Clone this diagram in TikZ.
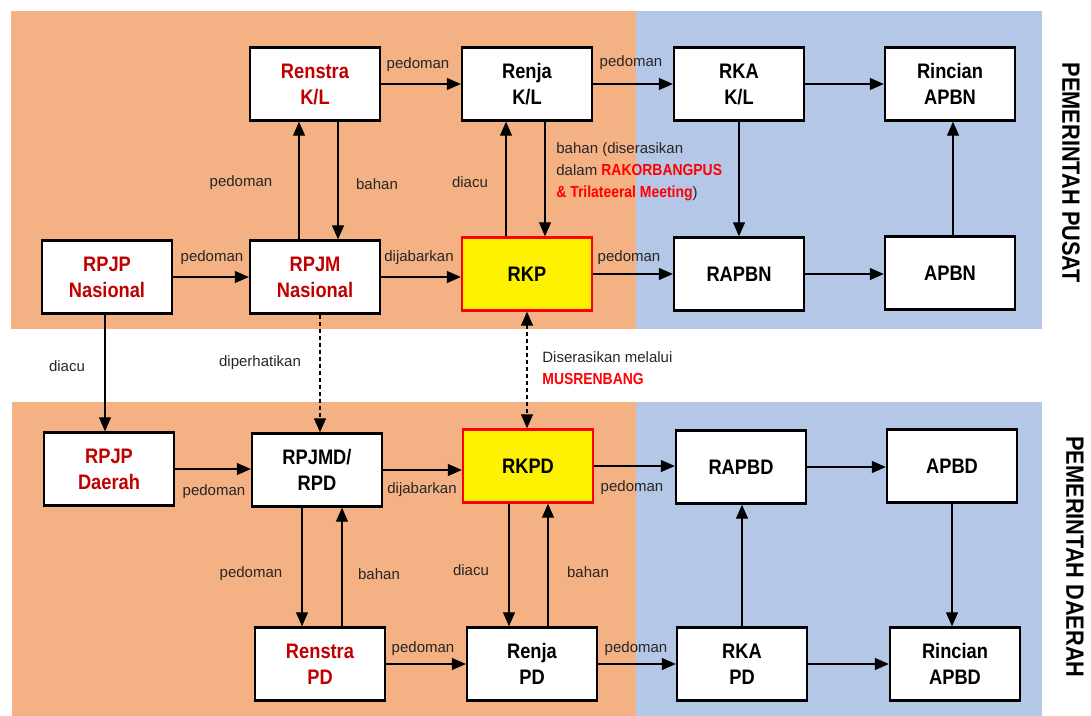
\documentclass[tikz,border=0pt]{standalone}
\usepackage{fontspec}
\setmainfont{Liberation Sans}
\newfontfamily\boxfont{Liberation Sans}[FakeStretch=0.87]
\usetikzlibrary{arrows.meta}

\definecolor{pusatorange}{HTML}{F4B183}
\definecolor{anggaranblue}{HTML}{B4C7E7}
\definecolor{docred}{HTML}{C00000}
\definecolor{hotred}{HTML}{FF0000}

\tikzset{
  doc/.style={draw, line width=1.2pt, fill=white, minimum width=65pt,
    minimum height=36.5pt, align=center, inner sep=0pt,
    font=\boxfont\bfseries\fontsize{10.5}{13}\selectfont},
  docname/.style={doc, text=docred},
  keydoc/.style={doc, fill=yellow, draw=hotred},
  lbl/.style={font=\fontsize{7.5}{11}\selectfont, text=black!85, inner sep=1pt},
  arr/.style={-{Triangle[length=7pt,width=6pt]}, line width=0.6pt},
  dasharr/.style={arr, dash pattern=on 2pt off 1.5pt},
  side/.style={font=\boxfont\bfseries\fontsize{12.5}{14}\selectfont, rotate=-90},
}
\newcommand{\hot}[1]{\textcolor{hotred}{\boxfont\bfseries\fontsize{8}{11}\selectfont #1}}

\begin{document}
\begin{tikzpicture}[x=0.5pt,y=-0.5pt]
  \useasboundingbox (0,0) rectangle (1091,716);

  % Background panels
  \fill[pusatorange] (11,11) rectangle (636,329);
  \fill[anggaranblue] (636,11) rectangle (1042,329);
  \fill[pusatorange] (12,402) rectangle (636,716);
  \fill[anggaranblue] (636,402) rectangle (1042,716);

  % Pemerintah pusat
  \node[docname] (renstrakl) at (315,84) {Renstra\\K/L};
  \node[doc] (renjakl) at (527,84) {Renja\\K/L};
  \node[doc] (rkakl) at (739,84) {RKA\\K/L};
  \node[doc] (rincianapbn) at (950,84) {Rincian\\APBN};
  \node[docname] (rpjpn) at (107,277) {RPJP\\Nasional};
  \node[docname] (rpjmn) at (315,277) {RPJM\\Nasional};
  \node[keydoc] (rkp) at (527,274) {RKP};
  \node[doc] (rapbn) at (739,274) {RAPBN};
  \node[doc] (apbn) at (950,273) {APBN};

  % Pemerintah daerah
  \node[docname] (rpjpd) at (109,469) {RPJP\\Daerah};
  \node[doc] (rpjmd) at (317,470) {RPJMD/\\RPD};
  \node[keydoc] (rkpd) at (528,466) {RKPD};
  \node[doc] (rapbd) at (741,467) {RAPBD};
  \node[doc] (apbd) at (952,466) {APBD};
  \node[docname] (renstrapd) at (320,664) {Renstra\\PD};
  \node[doc] (renjapd) at (532,664) {Renja\\PD};
  \node[doc] (rkapd) at (742,664) {RKA\\PD};
  \node[doc] (rincianapbd) at (955,664) {Rincian\\APBD};

  % Side titles
  \node[side] (tpusat) at (1071,173) {PEMERINTAH PUSAT};
  \node[side] (tdaerah) at (1075,557) {PEMERINTAH DAERAH};

  % Arrows, pusat
  \draw[arr] (renstrakl.east) -- (renstrakl.east -| renjakl.west);
  \draw[arr] (renjakl.east) -- (renjakl.east -| rkakl.west);
  \draw[arr] (rkakl.east) -- (rkakl.east -| rincianapbn.west);
  \draw[arr] (rpjpn.east) -- (rpjpn.east -| rpjmn.west);
  \draw[arr] (rpjmn.east) -- (rpjmn.east -| rkp.west);
  \draw[arr] (rkp.east) -- (rkp.east -| rapbn.west);
  \draw[arr] (rapbn.east) -- (rapbn.east -| apbn.west);
  \draw[arr] ([xshift=-8pt]rpjmn.north) -- ([xshift=-8pt]renstrakl.south);
  \draw[arr] ([xshift=11.5pt]renstrakl.south) -- ([xshift=11.5pt]rpjmn.north);
  \draw[arr] ([xshift=-10.5pt]rkp.north) -- ([xshift=-10.5pt]renjakl.south);
  \draw[arr] ([xshift=9pt]renjakl.south) -- ([xshift=9pt]rkp.north);
  \draw[arr] (rkakl.south) -- (rapbn.north);
  \draw[arr] ([xshift=1.5pt]apbn.north) -- ([xshift=1.5pt]apbn.north |- rincianapbn.south);

  % Arrows, pusat to daerah
  \draw[arr] ([xshift=-1pt]rpjpn.south) -- ([xshift=-1pt]rpjpn.south |- rpjpd.north);
  \draw[dasharr] ([xshift=2.5pt]rpjmn.south) -- ([xshift=2.5pt]rpjmn.south |- rpjmd.north);
  \draw[dasharr, {Triangle[length=7pt,width=6pt]}-{Triangle[length=7pt,width=6pt]}]
    (rkp.south) -- (rkp.south |- rkpd.north);

  % Arrows, daerah
  \draw[arr] (rpjpd.east) -- (rpjpd.east -| rpjmd.west);
  \draw[arr] (rpjmd.east) -- (rpjmd.east -| rkpd.west);
  \draw[arr] (rkpd.east) -- (rkpd.east -| rapbd.west);
  \draw[arr] (rapbd.east) -- (rapbd.east -| apbd.west);
  \draw[arr] (renstrapd.east) -- (renstrapd.east -| renjapd.west);
  \draw[arr] (renjapd.east) -- (renjapd.east -| rkapd.west);
  \draw[arr] (rkapd.east) -- (rkapd.east -| rincianapbd.west);
  \draw[arr] ([xshift=-7.5pt]rpjmd.south) -- ([xshift=-7.5pt]rpjmd.south |- renstrapd.north);
  \draw[arr] ([xshift=12.5pt]rpjmd.south |- renstrapd.north) -- ([xshift=12.5pt]rpjmd.south);
  \draw[arr] ([xshift=-9.5pt]rkpd.south) -- ([xshift=-9.5pt]rkpd.south |- renjapd.north);
  \draw[arr] ([xshift=10pt]rkpd.south |- renjapd.north) -- ([xshift=10pt]rkpd.south);
  \draw[arr] (rkapd.north) -- (rkapd.north |- rapbd.south);
  \draw[arr] (apbd.south) -- (apbd.south |- rincianapbd.north);

  % Labels
  \node[lbl] (lpd1) at (418,65) {pedoman};
  \node[lbl] (lpd2) at (631,63) {pedoman};
  \node[lbl] (lpd3) at (241,183) {pedoman};
  \node[lbl] (lbh1) at (377,184) {bahan};
  \node[lbl] (ldc1) at (470,182) {diacu};
  \node[lbl, anchor=west, align=left] (lbh2) at (554,172)
    {bahan (diserasikan\\dalam \hot{RAKORBANGPUS}\\\hot{\& Trilateeral Meeting})};
  \node[lbl] (lpd4) at (212,258) {pedoman};
  \node[lbl] (ldj1) at (419,258) {dijabarkan};
  \node[lbl] (lpd5) at (629,258) {pedoman};
  \node[lbl] (ldc2) at (67,366) {diacu};
  \node[lbl] (ldp) at (260,363) {diperhatikan};
  \node[lbl, anchor=west, align=left] (lmus) at (540,368)
    {Diserasikan melalui\\\hot{MUSRENBANG}};
  \node[lbl] (lpd6) at (214,492) {pedoman};
  \node[lbl] (ldj2) at (422,490) {dijabarkan};
  \node[lbl] (lpd7) at (632,488) {pedoman};
  \node[lbl] (lpd8) at (251,574) {pedoman};
  \node[lbl] (lbh3) at (379,574) {bahan};
  \node[lbl] (ldc3) at (471,570) {diacu};
  \node[lbl] (lbh4) at (588,572) {bahan};
  \node[lbl] (lpd9) at (423,649) {pedoman};
  \node[lbl] (lpd10) at (636,649) {pedoman};
\end{tikzpicture}
\end{document}
